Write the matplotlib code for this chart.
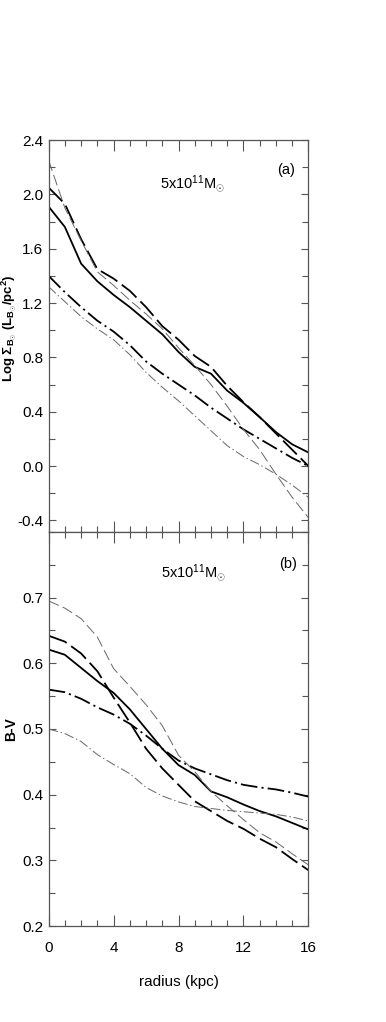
import matplotlib
matplotlib.use("Agg")
import matplotlib.pyplot as plt
from matplotlib.ticker import MultipleLocator

plt.rcParams['font.family'] = ['Liberation Sans', 'DejaVu Sans']
plt.rcParams['mathtext.fontset'] = 'custom'
plt.rcParams['mathtext.rm'] = 'Liberation Sans'
plt.rcParams['mathtext.it'] = 'Liberation Sans:italic'
plt.rcParams['mathtext.bf'] = 'Liberation Sans:bold'
plt.rcParams['lines.scale_dashes'] = False

radius = list(range(0, 17))

# panel (a): log surface brightness
solid_a = [1.91, 1.76, 1.49, 1.36, 1.26, 1.17, 1.07, 0.97, 0.84, 0.73, 0.68, 0.555, 0.465, 0.36, 0.25, 0.16, 0.10]
longdash_a = [2.05, 1.93, 1.67, 1.45, 1.38, 1.29, 1.17, 1.03, 0.93, 0.81, 0.73, 0.59, 0.47, 0.36, 0.24, 0.12, 0.0]
dashdot_a = [1.40, 1.28, 1.17, 1.07, 0.99, 0.89, 0.77, 0.68, 0.60, 0.52, 0.43, 0.35, 0.27, 0.20, 0.13, 0.06, 0.0]
thindash_a = [2.25, 1.90, 1.66, 1.43, 1.33, 1.22, 1.12, 1.01, 0.87, 0.74, 0.60, 0.44, 0.27, 0.12, -0.06, -0.23, -0.38]
thindot_a = [1.32, 1.21, 1.10, 1.01, 0.93, 0.82, 0.69, 0.58, 0.48, 0.37, 0.26, 0.15, 0.07, 0.01, -0.06, -0.14, -0.23]

# panel (b): B-V colour
solid_b = [0.621, 0.613, 0.593, 0.573, 0.555, 0.53, 0.50, 0.47, 0.445, 0.43, 0.405, 0.396, 0.385, 0.375, 0.367, 0.357, 0.347]
longdash_b = [0.642, 0.633, 0.615, 0.588, 0.548, 0.51, 0.47, 0.44, 0.415, 0.39, 0.375, 0.36, 0.348, 0.333, 0.32, 0.302, 0.285]
dashdot_b = [0.56, 0.556, 0.546, 0.533, 0.522, 0.508, 0.49, 0.47, 0.452, 0.44, 0.431, 0.422, 0.415, 0.411, 0.408, 0.403, 0.397]
thindash_b = [0.695, 0.684, 0.668, 0.640, 0.592, 0.565, 0.537, 0.505, 0.46, 0.435, 0.405, 0.383, 0.362, 0.342, 0.328, 0.31, 0.293]
thindot_b = [0.50, 0.493, 0.481, 0.461, 0.446, 0.432, 0.411, 0.398, 0.389, 0.382, 0.379, 0.376, 0.374, 0.372, 0.37, 0.366, 0.36]

mass_label = r'5x10$^{11}$M$_{\odot}$'

styles = [
    dict(color='black', lw=1.3, ls='-'),
    dict(color='black', lw=1.3, dashes=(14, 4)),
    dict(color='black', lw=1.3, dashes=(12, 3, 1.5, 3)),
    dict(color='#666666', lw=0.7, dashes=(8, 3)),
    dict(color='#666666', lw=0.7, dashes=(7, 2, 1, 2)),
]


def style_axes(ax, ymajor, yminor):
    ax.set_xlim(0, 16)
    ax.xaxis.set_major_locator(MultipleLocator(4))
    ax.xaxis.set_minor_locator(MultipleLocator(1))
    ax.yaxis.set_major_locator(MultipleLocator(ymajor))
    ax.yaxis.set_minor_locator(MultipleLocator(yminor))
    ax.tick_params(which='both', direction='in', top=True, right=True, color='#555555', width=0.8)
    ax.tick_params(axis='x', which='major', length=8, pad=11, labelsize=11)
    ax.tick_params(axis='x', which='minor', length=4)
    ax.tick_params(axis='y', which='major', length=5, pad=4, labelsize=11)
    ax.tick_params(axis='y', which='minor', length=4)
    for sp in ax.spines.values():
        sp.set_color('#555555')
        sp.set_linewidth(0.9)


fig = plt.figure(figsize=(3.86, 10.22), dpi=100)
ax1 = fig.add_axes([0.126, 0.4795, 0.673, 0.3835])
ax2 = fig.add_axes([0.126, 0.0939, 0.673, 0.3856])

for ys, st in zip([solid_a, longdash_a, dashdot_a, thindash_a, thindot_a], styles):
    ax1.plot(radius, ys, **st)
for ys, st in zip([solid_b, longdash_b, dashdot_b, thindash_b, thindot_b], styles):
    ax2.plot(radius, ys, **st)

style_axes(ax1, 0.4, 0.2)
ax1.set_ylim(-0.485, 2.4)
ax1.set_yticks([-0.4, 0.0, 0.4, 0.8, 1.2, 1.6, 2.0, 2.4])
ax1.set_yticklabels(['-0.4', '0.0', '0.4', '0.8', '1.2', '1.6', '2.0', '2.4'])
ax1.tick_params(axis='x', labelbottom=False)

style_axes(ax2, 0.1, 0.05)
ax2.set_ylim(0.2, 0.8)
ax2.set_yticks([0.2, 0.3, 0.4, 0.5, 0.6, 0.7])
ax2.set_yticklabels(['0.2', '0.3', '0.4', '0.5', '0.6', '0.7'])
ax2.set_xticks([0, 4, 8, 12, 16])
ax2.set_xticklabels(['0', '4', '8', '12', '16'])

ax1.text(0.428, 0.89, mass_label, transform=ax1.transAxes, fontsize=10.5, ha='left', va='center')
ax1.text(0.913, 0.923, '(a)', transform=ax1.transAxes, fontsize=10.5, ha='center', va='center')
ax2.text(0.432, 0.898, mass_label, transform=ax2.transAxes, fontsize=10.5, ha='left', va='center')
ax2.text(0.92, 0.919, '(b)', transform=ax2.transAxes, fontsize=10.5, ha='center', va='center')

ax2.set_xlabel('radius (kpc)', fontsize=11, labelpad=14)

fig.text(9 / 386, 1 - 328 / 1022,
         r'Log Σ$_{\mathbf{B}_{\odot}}$ (L$_{\mathbf{B}_{\odot}}$/pc$^{\mathbf{2}}$)',
         rotation=90, ha='center', va='center', fontsize=9.5, fontweight='bold')
fig.text(11 / 386, 1 - 729 / 1022, 'B-V', rotation=90, ha='center', va='center',
         fontsize=10, fontweight='bold')

fig.savefig('out.png', dpi=100)
